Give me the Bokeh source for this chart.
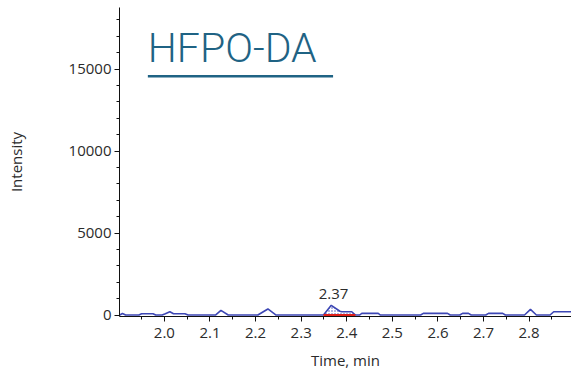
from bokeh.plotting import figure
from bokeh.models import Range1d, SingleIntervalTicker, Label, ColumnDataSource, PrintfTickFormatter
from bokeh.embed import file_html
from bokeh.resources import INLINE

# ---- data ----
times = [1.902, 1.908, 1.915, 1.944, 1.950, 1.975, 1.981, 1.995, 2.002, 2.012,
         2.020, 2.045, 2.052, 2.112, 2.124, 2.140, 2.205, 2.227, 2.245, 2.349,
         2.366, 2.385, 2.389, 2.411, 2.419, 2.428, 2.433, 2.469, 2.474, 2.562,
         2.568, 2.621, 2.627, 2.648, 2.654, 2.667, 2.673, 2.705, 2.711, 2.742,
         2.748, 2.790, 2.803, 2.816, 2.846, 2.854, 2.893]
intensity = [0, 90, 0, 0, 80, 80, 0, 0, 80, 200,
             80, 80, 0, 0, 280, 0, 0, 370, 0, 0,
             590, 230, 200, 200, 0, 0, 100, 100, 0, 0,
             100, 100, 0, 0, 100, 100, 0, 0, 100, 100,
             0, 0, 340, 0, 0, 200, 200]
peak_label = "2.37"
peak_rt = 2.371
peak_start = 2.349
peak_end = 2.419
title_text = "HFPO-DA"
x_label = "Time, min"
y_label = "Intensity"

FONT = "Open Sans"
TXT = "#2b2b2b"
LINE = "#3c46b4"
TITLE_COLOR = "#1f6384"

p = figure(width=571, height=374, output_backend="svg", toolbar_location=None,
           x_range=Range1d(1.9015, 2.893), y_range=Range1d(-90, 18760),
           min_border_left=119, min_border_right=0, min_border_top=7,
           min_border_bottom=58)
p.outline_line_color = None
p.xgrid.visible = False
p.ygrid.visible = False
p.background_fill_color = "white"
p.border_fill_color = "white"

for ax in (p.xaxis[0], p.yaxis[0]):
    ax.axis_line_color = "#111111"
    ax.major_tick_line_color = "#111111"
    ax.minor_tick_line_color = "#111111"
    ax.major_tick_in = 0
    ax.major_tick_out = 5
    ax.minor_tick_in = 0
    ax.minor_tick_out = 3
    ax.major_label_text_font = FONT
    ax.major_label_text_font_size = "15px"
    ax.major_label_text_color = TXT
    ax.axis_label_text_font = FONT
    ax.axis_label_text_font_size = "15px"
    ax.axis_label_text_color = TXT
    ax.axis_label_text_font_style = "normal"

p.xaxis[0].ticker = SingleIntervalTicker(interval=0.1, num_minor_ticks=2)
p.xaxis[0].formatter = PrintfTickFormatter(format="%.1f")
p.yaxis[0].ticker = SingleIntervalTicker(interval=5000, num_minor_ticks=5)
p.xaxis[0].axis_label = x_label
p.yaxis[0].axis_label = y_label
p.xaxis[0].major_label_standoff = 6
p.xaxis[0].axis_label_standoff = 9
p.yaxis[0].major_label_standoff = 3
p.yaxis[0].axis_label_standoff = 40

src = ColumnDataSource(dict(t=times, i=intensity))

# hatched peak area
pk_t = [t for t in times if peak_start <= t <= peak_end]
pk_i = [v for t, v in zip(times, intensity) if peak_start <= t <= peak_end]
p.varea(x=pk_t, y1=[0] * len(pk_t), y2=pk_i, fill_alpha=0,
        hatch_pattern="dot", hatch_color=LINE, hatch_scale=3, hatch_weight=1.5)

p.line("t", "i", source=src, line_color=LINE, line_width=1.6)
p.segment(x0=[peak_start], y0=[0], x1=[peak_end], y1=[0], line_color="#e0201a", line_width=2)

peak_h = max(pk_i)
p.add_layout(Label(x=peak_rt, y=peak_h, y_offset=11, text=peak_label, text_align="center",
                   text_baseline="alphabetic", text_font=FONT, text_font_size="15px",
                   text_color=TXT))

# title with underline
p.add_layout(Label(x=1.9637, y=16300, text=title_text, text_align="left",
                   text_baseline="alphabetic", text_font="Roboto Light",
                   text_font_size="41px", text_color=TITLE_COLOR))
p.segment(x0=[1.9637], y0=[14560], x1=[2.370], y1=[14560], line_color=TITLE_COLOR, line_width=2.5)

open("out.html", "w").write(file_html(p, INLINE))
